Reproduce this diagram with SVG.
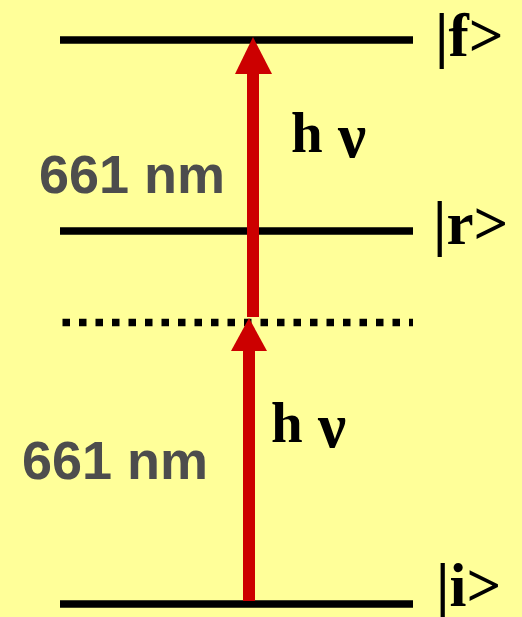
<svg xmlns="http://www.w3.org/2000/svg" width="522" height="617" viewBox="0 0 522 617">
<style>
.level{stroke:#000;stroke-width:7.5;fill:none}
.virt{stroke:#000;stroke-width:7.5;fill:none;stroke-dasharray:7.5 9}
.photon{fill:#CC0000}
.wl{font-family:"Liberation Sans",Arial,sans-serif;font-weight:bold;font-size:54px;fill:#4D4D4D}
.hv{font-family:"Liberation Serif","Times New Roman",serif;font-weight:bold;font-size:57px;fill:#000}
.nu{font-size:63px}
.ket{font-family:"Liberation Serif","Times New Roman",serif;font-weight:bold;font-size:61px;fill:#000}
</style>
<rect width="522" height="617" fill="#FFFF99"/>
<g id="level-f">
<line class="level" x1="60" y1="40" x2="413" y2="40"/>
<text class="ket" x="435" y="56">|f&gt;</text>
</g>
<g id="level-r">
<line class="level" x1="60" y1="231" x2="413" y2="231"/>
<text class="ket" x="433" y="244">|r&gt;</text>
</g>
<g id="level-virtual">
<line class="virt" x1="62.5" y1="322.5" x2="413" y2="322.5"/>
</g>
<g id="level-i">
<line class="level" x1="60" y1="604" x2="413" y2="604"/>
<text class="ket" x="436" y="606">|i&gt;</text>
</g>
<g id="connectors">
<g id="photon-upper">
<rect class="photon" x="247" y="72" width="12" height="245"/>
<polygon class="photon" points="253,37 272,74 235,74"/>
</g>
<g id="photon-lower">
<rect class="photon" x="243" y="349" width="12" height="252"/>
<polygon class="photon" points="249,318 267,351 231,351"/>
</g>
</g>
<g id="label-upper">
<text class="hv" x="291" y="152">h <tspan class="nu" x="338" y="157">ν</tspan></text>
<text class="wl" x="39" y="193">661 nm</text>
</g>
<g id="label-lower">
<text class="hv" x="271" y="442">h <tspan class="nu" x="318" y="447">ν</tspan></text>
<text class="wl" x="22" y="479">661 nm</text>
</g>
</svg>
